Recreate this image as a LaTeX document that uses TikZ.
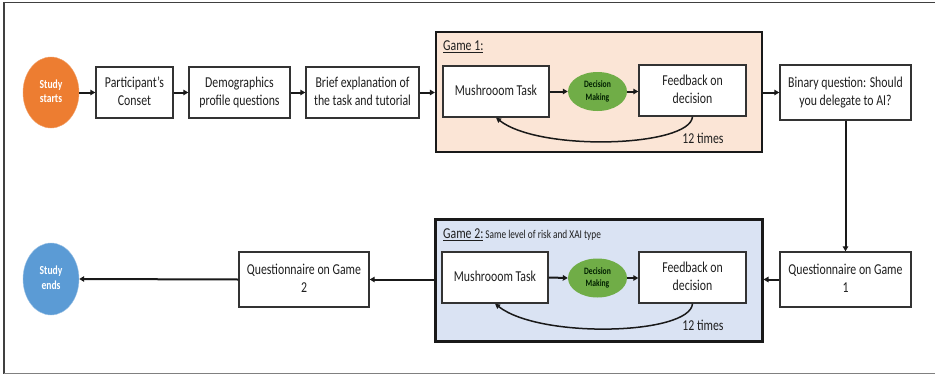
\documentclass[tikz,border=0pt]{standalone}
\usepackage{fontspec}
\usepackage{graphicx}
\setmainfont{Carlito}
\usetikzlibrary{shapes.geometric,arrows.meta}
\definecolor{orng}{HTML}{ED7D31}
\definecolor{blu}{HTML}{5B9BD5}
\definecolor{grn}{HTML}{70AD47}
\definecolor{peach}{HTML}{FBE5D6}
\definecolor{lblue}{HTML}{DAE3F3}
\definecolor{txt}{HTML}{1F1F1F}
\newcommand\vs[1]{\scalebox{1}[1.28]{\begin{tabular}{@{}c@{}}#1\end{tabular}}}
\begin{document}
\begin{tikzpicture}[x=1pt,y=-1pt,
  box/.style={draw=black!80, fill=white, line width=1.4pt, inner sep=0pt, text=txt,
    font=\fontsize{11.8}{14.3}\selectfont},
  circ/.style={ellipse, inner sep=0pt, text=white, font=\bfseries\fontsize{9.6}{11.5}\selectfont},
  dec/.style={ellipse, fill=grn, inner sep=0pt, minimum width=59pt, minimum height=39pt,
    text=black!80!green!60!black, font=\bfseries\fontsize{7.6}{9.5}\selectfont},
  game/.style={draw=black!90, inner sep=0pt},
  arr/.style={line width=2pt, draw=black!90, -{Triangle[length=5pt,width=5.5pt]}},
  loop/.style={line width=1.5pt, draw=black!90, -{Triangle[length=5pt,width=5pt]}},
  lbl/.style={inner sep=0pt, text=txt, font=\fontsize{11.8}{14.3}\selectfont}]
\useasboundingbox (0,0) rectangle (935,375);
\fill[white] (0,0) rectangle (935,375);
% frame
\draw[line width=1.3pt, draw=black!75] (935,2.5) -- (4,2.5) -- (4,373.5);
\draw[line width=1.3pt, draw=black!50] (4,373.5) -- (935,373.5);
% game containers
\node[game, fill=peach, line width=2.2pt, minimum width=326pt, minimum height=120pt] (game1) at (599,92) {};
\node[game, fill=lblue, line width=3pt, minimum width=327pt, minimum height=122pt] (game2) at (598.5,280) {};
\node[lbl, anchor=west] (g1lbl) at (443,47) {\scalebox{1}[1.28]{\underline{Game 1:}}};
\node[lbl, anchor=west] (g2lbl) at (443,235) {\scalebox{1}[1.28]{\underline{Game 2:}\,{\fontsize{9.3}{11}\selectfont Same level of risk and XAI type}}};
% top row
\node[circ, fill=orng, draw=orng!70!white, minimum width=56pt, minimum height=71pt] (start) at (51,92.5) {\vs{Study\\starts}};
\node[box, minimum width=77pt, minimum height=51pt] (cons) at (134.5,92.5) {\vs{Participant’s\\Conset}};
\node[box, minimum width=101pt, minimum height=51pt] (demo) at (239.5,92.5) {\vs{Demographics\\profile questions}};
\node[box, minimum width=113pt, minimum height=51pt] (brief) at (362.5,92.5) {\vs{Brief explanation of\\the task and tutorial}};
\node[box, minimum width=106pt, minimum height=51pt] (mush1) at (496,91.5) {\vs{Mushrooom Task}};
\node[dec] (dec1) at (597.5,91.5) {\vs{Decision\\Making}};
\node[box, minimum width=107pt, minimum height=51pt] (fb1) at (692.5,90.5) {\vs{Feedback on\\decision}};
\node[box, minimum width=131pt, minimum height=55pt] (bin) at (845.5,92.5) {\vs{Binary question: Should\\you delegate to AI?}};
\node[lbl] (t1) at (703,138) {\scalebox{1}[1.28]{12 times}};
% bottom row
\node[box, minimum width=131pt, minimum height=55pt] (q1) at (845.5,279.5) {\vs{Questionnaire on Game\\1}};
\node[box, minimum width=106pt, minimum height=51pt] (mush2) at (495,277.5) {\vs{Mushrooom Task}};
\node[dec] (dec2) at (597.5,278) {\vs{Decision\\Making}};
\node[box, minimum width=107pt, minimum height=51pt] (fb2) at (692.5,277.5) {\vs{Feedback on\\decision}};
\node[lbl] (t2) at (703,325) {\scalebox{1}[1.28]{12 times}};
\node[box, minimum width=130pt, minimum height=55pt] (q2) at (304,279.5) {\vs{Questionnaire on Game\\2}};
\node[circ, fill=blu, draw=blu!60!white, minimum width=56pt, minimum height=72pt] (end) at (51,279) {\vs{Study\\ends}};
% connectors top
\draw[arr] (start.east) -- (cons.west);
\draw[arr] (cons.east) -- (demo.west);
\draw[arr] (demo.east) -- (brief.west);
\draw[arr] (brief.east) -- (game1.west |- brief.east);
\draw[arr] (mush1.east) -- (dec1.west);
\draw[arr] (dec1.east) -- (fb1.west |- dec1.east);
\draw[arr] (game1.east |- bin.west) -- (bin.west);
\draw[loop] (fb1.south) .. controls (690,147) and (540,152) .. (mush1.south);
\draw[arr] (bin.south) -- (q1.north);
% connectors bottom
\draw[arr] (q1.west) -- (game2.east |- q1.west);
\draw[arr] (mush2.east) -- (dec2.west);
\draw[arr] (dec2.east) -- (fb2.west |- dec2.east);
\draw[loop] (fb2.south) .. controls (690,335) and (540,339) .. (mush2.south);
\draw[arr] (game2.west |- q2.east) -- (q2.east);
\draw[arr] (q2.west) -- (end.east);
\end{tikzpicture}
\end{document}
